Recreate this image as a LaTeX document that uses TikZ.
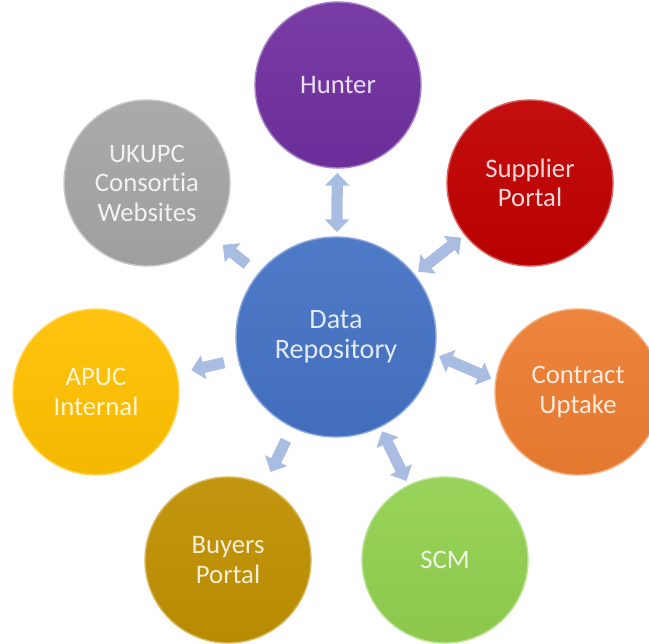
\documentclass[tikz,border=0pt]{standalone}
\usepackage{fontspec}
\setmainfont{Carlito}[Ligatures=NoCommon]
\usepackage{tikz}
\usetikzlibrary{arrows.meta}
\usepackage{xcolor}
\definecolor{xblue}{HTML}{4472C4}
\definecolor{xpurple}{HTML}{7030A0}
\definecolor{xred}{HTML}{C00000}
\definecolor{xorange}{HTML}{ED7D31}
\definecolor{xgreen}{HTML}{92D050}
\definecolor{xgold}{HTML}{BF9000}
\definecolor{xyellow}{HTML}{FFC000}
\definecolor{xgrey}{HTML}{A5A5A5}
\definecolor{xarrow}{HTML}{A9BDE3}
\tikzset{
	ball/.style={circle, minimum size=4.15cm, inner sep=0pt, align=center,
		top color=#1!94!white, bottom color=#1!96!black, draw=#1!60!white, line width=1pt,
		text=#1!15!white, font=\fontsize{19}{21}\selectfont},
	link/.style={line width=8pt, draw=xarrow, -{Triangle[width=17pt, length=9pt]},
		shorten >=10pt, shorten <=10pt},
	duo/.style={link, {Triangle[width=17pt, length=9pt]}-{Triangle[width=17pt, length=9pt]},
		shorten >=3pt, shorten <=3pt},
}

\begin{document}
\begin{tikzpicture}[x=0.025cm, y=-0.025cm]
	\useasboundingbox (0,0) rectangle (649,643);
	% centre
	\node[ball=xblue, minimum size=5cm, font=\fontsize{20}{21.5}\selectfont] (data) at (336,337) {Data\\Repository};

	% outer ring
	\node[ball=xpurple] (hunter)   at (338,85)  {Hunter};
	\node[ball=xred]    (supplier) at (530,183) {Supplier\\Portal};
	\node[ball=xorange] (contract) at (578,392) {Contract\\Uptake};
	\node[ball=xgreen]  (scm)      at (445,560) {SCM};
	\node[ball=xgold]   (buyers)   at (228,560) {Buyers\\Portal};
	\node[ball=xyellow] (apuc)     at (96,392)  {APUC\\Internal};
	\node[ball=xgrey]   (ukupc)    at (147,183) {UKUPC\\Consortia\\Websites};

	% links
	\draw[duo] (data) -- (hunter);
	\draw[duo] (data) -- (supplier);
	\draw[duo] (data.-10) -- (contract.172);
	\draw[duo] (data) -- (scm);
	\draw[link] (data) -- (buyers);
	\draw[link] (data) -- (apuc);
	\draw[link] (data) -- (ukupc);
\end{tikzpicture}
\end{document}
